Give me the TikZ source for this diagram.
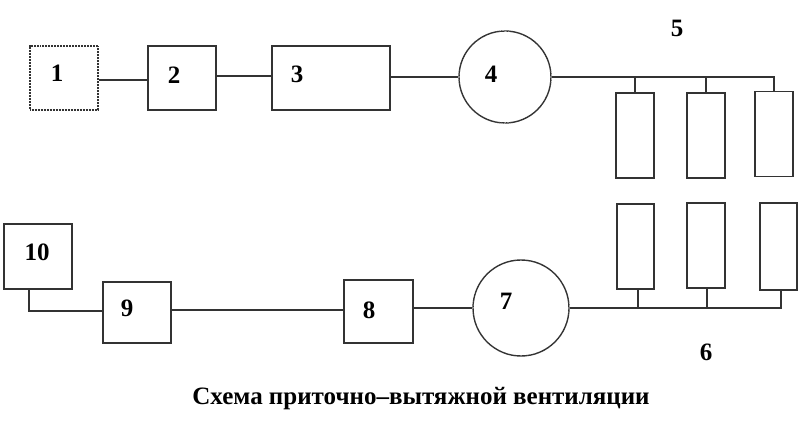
\documentclass[tikz,border=0pt]{standalone}
\usepackage{fontspec}
\setmainfont{Liberation Serif}
\begin{document}
\begin{tikzpicture}[x=1pt,y=-1pt,
  ln/.style={draw=black!80,line width=1.4pt},
  box/.style={ln,rectangle,inner sep=0pt,fill=none},
  fan/.style={ln,circle,inner sep=0pt,dash pattern=on 1.2pt off 0.3pt},
  num/.style={font=\bfseries\fontsize{25}{25}\selectfont,inner sep=0pt}]
\useasboundingbox[fill=white] (0,0) rectangle (800,438);
% top row
\node[box,dash pattern=on 1pt off 0.5pt,minimum width=68,minimum height=64] (b1) at (64,78) {};
\node[box,minimum width=68,minimum height=64] (b2) at (182,78) {};
\node[box,minimum width=118,minimum height=64] (b3) at (331,78) {};
\node[fan,minimum size=92] (c4) at (505,77) {};
\node[box,minimum width=38,minimum height=85] (t1) at (635,135.5) {};
\node[box,minimum width=38,minimum height=85] (t2) at (706,135.5) {};
\node[box,minimum width=38,minimum height=85] (t3) at (774,134) {};
% bottom row
\node[box,minimum width=68,minimum height=65] (b10) at (38,256.5) {};
\node[box,minimum width=68,minimum height=61] (b9) at (137,312.5) {};
\node[box,minimum width=69,minimum height=63] (b8) at (378.5,311.5) {};
\node[fan,minimum size=96] (c7) at (521,308) {};
\node[box,minimum width=37,minimum height=85] (u1) at (635.5,246.5) {};
\node[box,minimum width=38,minimum height=85] (u2) at (706,245.5) {};
\node[box,minimum width=37,minimum height=87] (u3) at (778.5,246.5) {};
% labels
\node[num] (l1) at (57,73) {1};
\node[num] (l2) at (174,75) {2};
\node[num] (l3) at (297,74) {3};
\node[num] (l4) at (491,74) {4};
\node[num] (l5) at (677,28) {5};
\node[num] (l6) at (706,352) {6};
\node[num] (l7) at (506,301) {7};
\node[num] (l8) at (369,310) {8};
\node[num] (l9) at (127,308) {9};
\node[num] (l10) at (37,252) {10};
\node[font=\bfseries\fontsize{25}{25}\selectfont,inner sep=0pt] (cap) at (421,399) {Схема приточно–вытяжной вентиляции};
% connectors top
\draw[ln] (b1.east |- 0,80) -- (b2.west |- 0,80);
\draw[ln] (b2.east |- 0,76) -- (b3.west |- 0,76);
\draw[ln] (b3.east |- c4.west) -- (c4.west);
\draw[ln] (c4.east) -| (t3.north);
\draw[ln] (t1.north) -- (t1.north |- c4.east);
\draw[ln] (t2.north) -- (t2.north |- c4.east);
% connectors bottom
\draw[ln] ([xshift=-9]b10.south) |- (b9.west |- 0,311);
\draw[ln] (b9.east |- 0,310) -- (b8.west |- 0,310);
\draw[ln] (b8.east |- c7.west) -- (c7.west);
\draw[ln] (c7.east) -| ([xshift=2.5]u3.south);
\draw[ln] ([xshift=2.5]u1.south) -- ([xshift=2.5]u1.south |- c7.east);
\draw[ln] ([xshift=1]u2.south) -- ([xshift=1]u2.south |- c7.east);
\end{tikzpicture}
\end{document}
